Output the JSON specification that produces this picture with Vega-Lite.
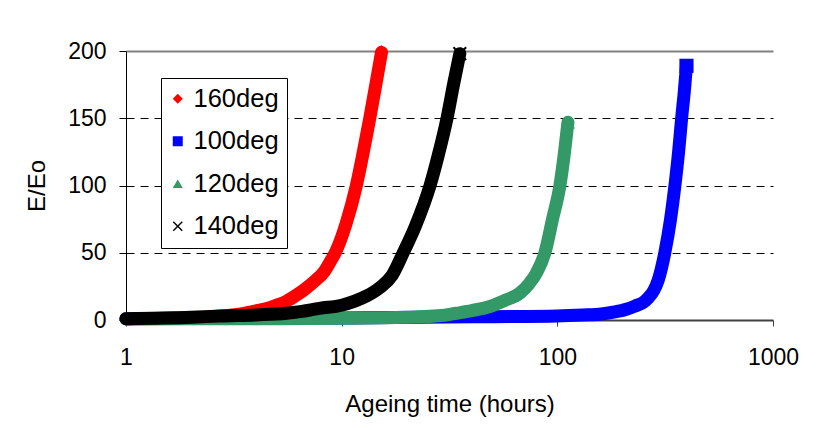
{
  "$schema": "https://vega.github.io/schema/vega-lite/v6.json",
  "width": 647,
  "height": 269,
  "autosize": "none",
  "padding": {"left": 126, "top": 51, "right": 56, "bottom": 110},
  "background": "white",
  "config": {
    "font": "Liberation Sans",
    "view": {"stroke": null},
    "axis": {"labelFont": "Liberation Sans", "titleFont": "Liberation Sans", "labelColor": "black", "titleColor": "black", "titleFontWeight": "normal"},
    "legend": {"labelFont": "Liberation Sans"}
  },
  "data": {
    "values": [
      {"s": "160deg", "t": 1, "e": 1},
      {"s": "160deg", "t": 1.5, "e": 1.3},
      {"s": "160deg", "t": 2, "e": 1.8},
      {"s": "160deg", "t": 2.7, "e": 2.8},
      {"s": "160deg", "t": 3.4, "e": 4.5},
      {"s": "160deg", "t": 3.9, "e": 6.5},
      {"s": "160deg", "t": 4.5, "e": 8.5},
      {"s": "160deg", "t": 5.0, "e": 11},
      {"s": "160deg", "t": 5.55, "e": 14},
      {"s": "160deg", "t": 6.1, "e": 18},
      {"s": "160deg", "t": 6.7, "e": 22.5},
      {"s": "160deg", "t": 7.5, "e": 29},
      {"s": "160deg", "t": 8.3, "e": 36},
      {"s": "160deg", "t": 8.9, "e": 44},
      {"s": "160deg", "t": 9.4, "e": 51},
      {"s": "160deg", "t": 10.5, "e": 72},
      {"s": "160deg", "t": 11.7, "e": 100},
      {"s": "160deg", "t": 12.6, "e": 125},
      {"s": "160deg", "t": 13.5, "e": 150},
      {"s": "160deg", "t": 14.4, "e": 175},
      {"s": "160deg", "t": 15.3, "e": 199},
      {"s": "100deg", "t": 1, "e": 1},
      {"s": "100deg", "t": 10, "e": 1.5},
      {"s": "100deg", "t": 50, "e": 2.5},
      {"s": "100deg", "t": 100, "e": 3},
      {"s": "100deg", "t": 131, "e": 3.7},
      {"s": "100deg", "t": 160, "e": 4.5},
      {"s": "100deg", "t": 185, "e": 6},
      {"s": "100deg", "t": 209, "e": 8},
      {"s": "100deg", "t": 230, "e": 10.5},
      {"s": "100deg", "t": 250, "e": 13},
      {"s": "100deg", "t": 264, "e": 16.5},
      {"s": "100deg", "t": 280, "e": 22},
      {"s": "100deg", "t": 294, "e": 30},
      {"s": "100deg", "t": 315, "e": 50},
      {"s": "100deg", "t": 335, "e": 75},
      {"s": "100deg", "t": 351, "e": 100},
      {"s": "100deg", "t": 365, "e": 125},
      {"s": "100deg", "t": 377, "e": 150},
      {"s": "100deg", "t": 388, "e": 170},
      {"s": "100deg", "t": 397, "e": 189},
      {"s": "120deg", "t": 1, "e": 0.8},
      {"s": "120deg", "t": 2, "e": 0.9},
      {"s": "120deg", "t": 5, "e": 1},
      {"s": "120deg", "t": 10, "e": 1.3},
      {"s": "120deg", "t": 20, "e": 2},
      {"s": "120deg", "t": 30, "e": 3.5},
      {"s": "120deg", "t": 34, "e": 5},
      {"s": "120deg", "t": 40, "e": 7},
      {"s": "120deg", "t": 48.7, "e": 10},
      {"s": "120deg", "t": 57, "e": 14.5},
      {"s": "120deg", "t": 67, "e": 20},
      {"s": "120deg", "t": 74, "e": 27},
      {"s": "120deg", "t": 80, "e": 35},
      {"s": "120deg", "t": 87.6, "e": 50},
      {"s": "120deg", "t": 95, "e": 75},
      {"s": "120deg", "t": 102.8, "e": 100},
      {"s": "120deg", "t": 108, "e": 125},
      {"s": "120deg", "t": 112, "e": 147},
      {"s": "140deg", "t": 1, "e": 1},
      {"s": "140deg", "t": 2, "e": 2},
      {"s": "140deg", "t": 2.73, "e": 3},
      {"s": "140deg", "t": 4, "e": 3.8},
      {"s": "140deg", "t": 5.55, "e": 5},
      {"s": "140deg", "t": 6.4, "e": 6.2},
      {"s": "140deg", "t": 7.9, "e": 8.7},
      {"s": "140deg", "t": 10, "e": 11},
      {"s": "140deg", "t": 11.5, "e": 14},
      {"s": "140deg", "t": 13.1, "e": 18},
      {"s": "140deg", "t": 15, "e": 24},
      {"s": "140deg", "t": 17.1, "e": 33},
      {"s": "140deg", "t": 19.3, "e": 50},
      {"s": "140deg", "t": 22, "e": 70},
      {"s": "140deg", "t": 25.7, "e": 100},
      {"s": "140deg", "t": 28, "e": 122},
      {"s": "140deg", "t": 30.8, "e": 150},
      {"s": "140deg", "t": 33, "e": 175},
      {"s": "140deg", "t": 35.3, "e": 198}
    ]
  },
  "encoding": {
    "x": {
      "field": "t", "type": "quantitative",
      "scale": {"type": "log", "domain": [1, 1000], "nice": false},
      "axis": {
        "title": "Ageing time (hours)", "values": [1, 10, 100, 1000], "format": "d",
        "labelFontSize": 23, "titleFontSize": 24, "labelPadding": 20, "titlePadding": 23,
        "tickSize": 6, "tickColor": "#404040", "domainColor": "#404040", "domainWidth": 2,
        "grid": false, "labelFlush": false
      }
    },
    "y": {
      "field": "e", "type": "quantitative",
      "scale": {"domain": [0, 200], "nice": false},
      "axis": {
        "title": "E/Eo", "values": [0, 50, 100, 150, 200],
        "labelFontSize": 23, "titleFontSize": 24, "labelPadding": 13, "titlePadding": 18,
        "tickSize": 7, "tickColor": "black", "domainColor": "black", "domainWidth": 1,
        "grid": true,
        "gridColor": {"condition": {"test": "datum.value === 200", "value": "#808080"}, "value": "black"},
        "gridDash": {"condition": {"test": "datum.value === 200", "value": []}, "value": [8, 6]},
        "gridWidth": {"condition": {"test": "datum.value === 200", "value": 2}, "value": 1},
        "gridOpacity": {"condition": {"test": "datum.value === 0", "value": 0}, "value": 1},
        "labelFlush": false
      }
    }
  },
  "layer": [
    {
      "mark": {"type": "line", "strokeWidth": 13, "strokeCap": "round", "strokeJoin": "round", "interpolate": "monotone"},
      "encoding": {
        "stroke": {
          "field": "s", "type": "nominal",
          "scale": {"domain": ["100deg", "120deg", "140deg", "160deg"], "range": ["#0000ff", "#339966", "#000000", "#ff0000"]},
          "legend": null
        },
        "order": {"field": "t", "type": "quantitative"}
      }
    },
    {
      "transform": [
        {"joinaggregate": [{"op": "max", "field": "t", "as": "tmax"}], "groupby": ["s"]},
        {"filter": "datum.t === datum.tmax"}
      ],
      "mark": {"type": "point", "filled": true, "size": 200, "opacity": 1},
      "encoding": {
        "color": {
          "field": "s", "type": "nominal",
          "scale": {"domain": ["160deg", "100deg", "120deg", "140deg"], "range": ["#ff0000", "#0000ff", "#339966", "#000000"]},
          "legend": {
            "title": null, "orient": "none", "legendX": 35, "legendY": 27,
            "strokeColor": "black", "fillColor": "white", "padding": 8, "cornerRadius": 0,
            "labelFontSize": 25.5, "labelColor": "black", "symbolSize": 100, "rowPadding": 15.5,
            "labelOffset": 3, "symbolOffset": -4, "symbolOpacity": 1
          }
        },
        "shape": {
          "field": "s", "type": "nominal",
          "scale": {"domain": ["160deg", "100deg", "120deg", "140deg"], "range": ["diamond", "square", "triangle-up", "M0,-0.2L0.8,-1L1,-0.8L0.2,0L1,0.8L0.8,1L0,0.2L-0.8,1L-1,0.8L-0.2,0L-1,-0.8L-0.8,-1Z"]}
        }
      }
    }
  ]
}
